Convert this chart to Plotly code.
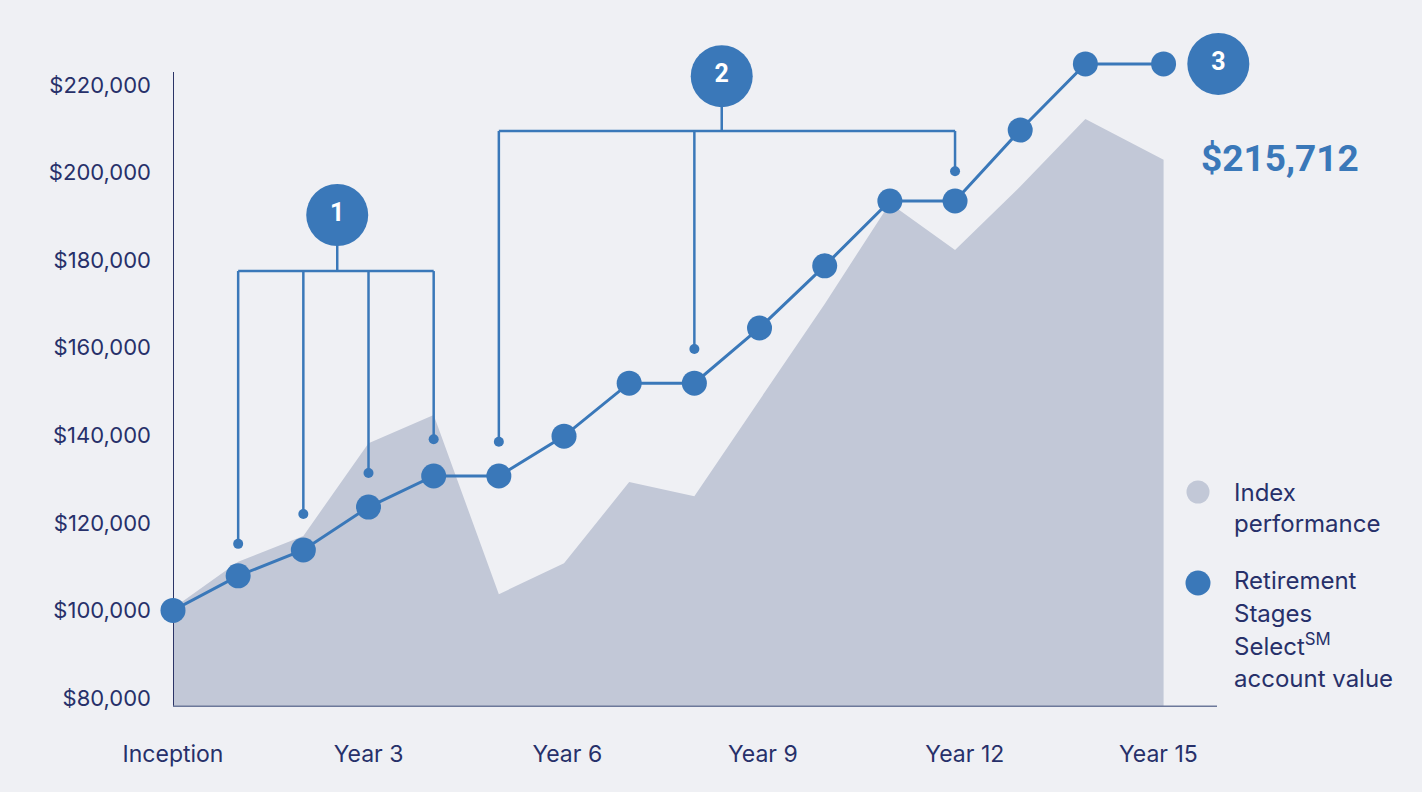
import plotly.graph_objects as go

# ---------------- data ----------------
years = [0, 1, 2, 3, 4, 5, 6, 7, 8, 9, 10, 11, 12, 13, 14, 15.2]
account_values = [100000, 107900, 113800, 123600, 130700, 130700, 139800, 151900,
                  151900, 164500, 178700, 193500, 193500, 209700, 224800, 224800]
index_values = [100500, 111100, 117000, 138200, 144600, 103700, 110800, 129300,
                126100, 148100, 170000, 193000, 182300, 196800, 212200, 202900]

x_tick_pos = [0, 3, 6.05, 9.05, 12.15, 15.12]
x_tick_text = ["Inception", "Year 3", "Year 6", "Year 9", "Year 12", "Year 15"]
y_tick_vals = [80000, 100000, 120000, 140000, 160000, 180000, 200000, 220000]
y_tick_text = ["$80,000", "$100,000", "$120,000", "$140,000", "$160,000",
               "$180,000", "$200,000", "$220,000"]

pins1_years = [1, 2, 3, 4]
pins1_values = [115200, 122000, 131400, 139100]
bracket1_level = 177500
badge1 = (2.52, 190300, "1")

pins2_years = [5, 8, 12]
pins2_values = [138500, 159700, 200300]
bracket2_level = 209500
badge2 = (8.42, 222000, "2")

badge3 = (16.04, 224800, "3")
final_label = "$215,712"
final_label_pos = (16.99, 203300)

# ---------------- style ----------------
BG = "#eff0f4"
BLUE = "#3a78b9"
AREA = "#c2c8d7"
NAVY = "#27306a"
FONT = "Inter"

PX_PER_YEAR = 65.17
PX_PER_DOLLAR = 0.004379
L_MARGIN, B_MARGIN, W, H = 173, 85, 1422, 792


def px2x(px):
    return (px - L_MARGIN) / PX_PER_YEAR


def py2y(py):
    return 80000 + (698 - py) / PX_PER_DOLLAR


def bracket_path(pin_x, pin_y, level, badge):
    xs, ys = [pin_x[0], pin_x[-1], None], [level, level, None]
    for px_, pv in zip(pin_x, pin_y):
        xs += [px_, px_, None]
        ys += [level, pv, None]
    xs += [badge[0], badge[0]]
    ys += [level, badge[1]]
    return xs, ys


fig = go.Figure()

# Index performance area
fig.add_trace(go.Scatter(x=years, y=index_values, mode="lines", fill="tozeroy",
                         fillcolor=AREA, line=dict(width=0, color=AREA),
                         hoverinfo="skip", showlegend=False))

# axis lines (drawn under the data marks)
fig.add_trace(go.Scatter(x=[0, 0], y=[py2y(707), py2y(72)], mode="lines",
                         line=dict(color="#2b3466", width=2), hoverinfo="skip",
                         showlegend=False, cliponaxis=False))
fig.add_trace(go.Scatter(x=[0, px2x(1217)], y=[py2y(707), py2y(707)], mode="lines",
                         line=dict(color="#6c789a", width=3), hoverinfo="skip",
                         showlegend=False, cliponaxis=False))

# brackets
for px_, pv, lvl, bd in [(pins1_years, pins1_values, bracket1_level, badge1),
                         (pins2_years, pins2_values, bracket2_level, badge2)]:
    bx, by = bracket_path(px_, pv, lvl, bd)
    fig.add_trace(go.Scatter(x=bx, y=by, mode="lines", line=dict(color=BLUE, width=2.5),
                             showlegend=False, hoverinfo="skip", cliponaxis=False))
    fig.add_trace(go.Scatter(x=px_, y=pv, mode="markers",
                             marker=dict(color=BLUE, size=10), showlegend=False,
                             cliponaxis=False))

# account value line
fig.add_trace(go.Scatter(x=years, y=account_values, mode="lines+markers",
                         line=dict(color=BLUE, width=3),
                         marker=dict(color=BLUE, size=25),
                         showlegend=False, cliponaxis=False))

# badges
bx = [badge1[0], badge2[0], badge3[0]]
by = [badge1[1], badge2[1], badge3[1]]
bt = [badge1[2], badge2[2], badge3[2]]
fig.add_trace(go.Scatter(x=bx, y=by, mode="markers+text", text=bt,
                         textposition="middle center",
                         textfont=dict(color="white", size=25, family="Roboto", weight="bold"),
                         marker=dict(color=BLUE, size=62), showlegend=False,
                         cliponaxis=False))

shapes = [
    # legend circles
    dict(type="circle", xref="x", yref="y", x0=px2x(1186.5), x1=px2x(1209.5),
         y0=py2y(503.5), y1=py2y(480.5), fillcolor=AREA, line=dict(width=0)),
    dict(type="circle", xref="x", yref="y", x0=px2x(1185.5), x1=px2x(1210.5),
         y0=py2y(595.5), y1=py2y(570.5), fillcolor=BLUE, line=dict(width=0)),
]

annotations = [
    dict(x=final_label_pos[0], y=final_label_pos[1], xref="x", yref="y",
         text=final_label, showarrow=False, xanchor="center", yanchor="middle",
         font=dict(family="Roboto", size=37, color=BLUE, weight="bold")),
]
legend_lines = [("Index", 492), ("performance", 523),
                ("Retirement", 580), ("Stages", 613),
                ("Select<sup>SM</sup>", 645),
                ("account value", 678)]
for txt, ypx in legend_lines:
    annotations.append(dict(x=px2x(1232), y=py2y(ypx), xref="x", yref="y", text=txt,
                            showarrow=False, xanchor="left", yanchor="middle",
                            font=dict(family=FONT, size=24, color=NAVY)))

fig.update_layout(
    width=W, height=H,
    margin=dict(l=L_MARGIN, r=0, t=0, b=B_MARGIN),
    paper_bgcolor=BG, plot_bgcolor=BG,
    xaxis=dict(range=[0, px2x(W)], showgrid=False, zeroline=False, showline=False,
               tickvals=x_tick_pos, ticktext=x_tick_text, ticks="",
               ticklabelstandoff=31, tickfont=dict(family=FONT, size=23, color=NAVY)),
    yaxis=dict(range=[py2y(707), py2y(0)], showgrid=False, zeroline=False, showline=False,
               tickvals=y_tick_vals, ticktext=y_tick_text, ticks="",
               ticklabelstandoff=21, tickfont=dict(family=FONT, size=22, color=NAVY)),
    shapes=shapes, annotations=annotations, showlegend=False,
)

fig.write_html("out.html")
